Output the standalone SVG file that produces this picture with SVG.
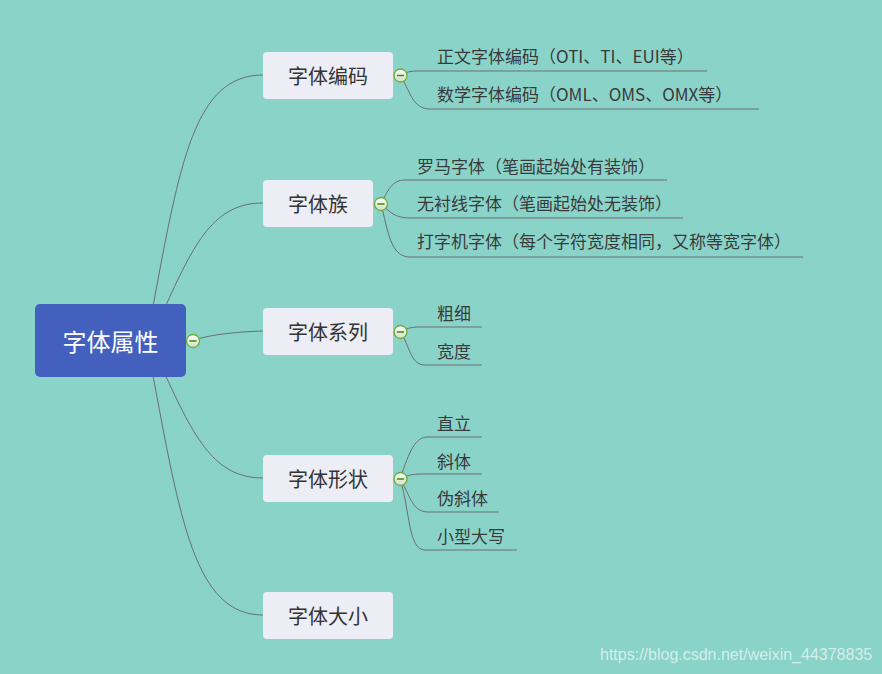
<svg xmlns="http://www.w3.org/2000/svg" width="882" height="674" viewBox="0 0 882 674">
<defs>
<linearGradient id="cg" x1="0" y1="0" x2="0" y2="1">
<stop offset="0" stop-color="#ffffff"/>
<stop offset="1" stop-color="#d3dfc2"/>
</linearGradient>
<g id="col">
<circle r="6.5" fill="url(#cg)" stroke="#6aae36" stroke-width="1.3"/>
<line x1="-3.6" y1="0" x2="3.6" y2="0" stroke="#3a8a18" stroke-width="1.5"/>
</g>
</defs>
<style>
.f{font-family:"Noto Sans CJK SC","Liberation Sans",sans-serif}
.root{fill:#4360bf}
.node{fill:#ededf5}
.nt{font-size:20px;fill:#333;text-anchor:middle;dominant-baseline:central}
.ct{font-size:17px;fill:#3a3a3a;dominant-baseline:central}
.ln{fill:none;stroke:#6e6e6e;stroke-width:1}
</style>
<rect width="882" height="674" fill="#8ad3c9"/>
<g id="connectors">
<path class="ln" d="M152 312 C180 160 195 75 263 75"/>
<path class="ln" d="M163 312 C195 240 215 203 263 203"/>
<path class="ln" d="M193 340 C215 334 235 332 263 331"/>
<path class="ln" d="M163 370 C195 440 215 478 263 478"/>
<path class="ln" d="M152 370 C180 520 195 615 263 615"/>
<path class="ln" d="M400 75 C406 72 410 71 420 71 L707 71"/>
<path class="ln" d="M400 75 C410 90 412 109 430 109 L759 109"/>
<path class="ln" d="M381 204 C388 190 392 180 405 180 L667 180"/>
<path class="ln" d="M381 204 C390 212 395 218 410 218 L683 218"/>
<path class="ln" d="M381 204 C388 230 390 257 410 257 L803 257"/>
<path class="ln" d="M400 332 C406 329 410 327 420 327 L482 327"/>
<path class="ln" d="M400 332 C410 345 410 365 425 365 L482 365"/>
<path class="ln" d="M400 479 C410 450 415 437 428 437 L482 437"/>
<path class="ln" d="M400 479 C406 476 410 474 422 474 L482 474"/>
<path class="ln" d="M400 479 C410 495 412 512 428 512 L499 512"/>
<path class="ln" d="M400 479 C410 510 408 550 425 550 L517 550"/>
</g>
<g id="root">
<rect class="root" x="35" y="304" width="151" height="73" rx="5"/>
<text class="f" x="110.5" y="340.5" font-size="24" fill="#fff" text-anchor="middle" dominant-baseline="central">字体属性</text>
<use href="#col" x="193" y="341"/>
</g>
<g id="n1">
<rect class="node" x="263" y="52" width="130" height="47" rx="4"/>
<text class="f nt" x="328" y="75">字体编码</text>
<use href="#col" x="400.5" y="75.5"/>
</g>
<g id="n2">
<rect class="node" x="263" y="180" width="110" height="47" rx="4"/>
<text class="f nt" x="318" y="203">字体族</text>
<use href="#col" x="381" y="204"/>
</g>
<g id="n3">
<rect class="node" x="263" y="308" width="130" height="47" rx="4"/>
<text class="f nt" x="328" y="331">字体系列</text>
<use href="#col" x="400.5" y="332"/>
</g>
<g id="n4">
<rect class="node" x="263" y="455" width="130" height="47" rx="4"/>
<text class="f nt" x="328" y="478">字体形状</text>
<use href="#col" x="400.5" y="479"/>
</g>
<g id="n5">
<rect class="node" x="263" y="592" width="130" height="47" rx="4"/>
<text class="f nt" x="328" y="615">字体大小</text>
</g>
<g id="c11"><text class="f ct" x="437" y="55">正文字体编码（OTI、TI、EUI等）</text></g>
<g id="c12"><text class="f ct" x="437" y="93">数学字体编码（OML、OMS、OMX等）</text></g>
<g id="c21"><text class="f ct" x="417" y="165">罗马字体（笔画起始处有装饰）</text></g>
<g id="c22"><text class="f ct" x="417" y="202">无衬线字体（笔画起始处无装饰）</text></g>
<g id="c23"><text class="f ct" x="417" y="240">打字机字体（每个字符宽度相同，又称等宽字体）</text></g>
<g id="c31"><text class="f ct" x="437" y="312">粗细</text></g>
<g id="c32"><text class="f ct" x="437" y="350">宽度</text></g>
<g id="c41"><text class="f ct" x="437" y="422">直立</text></g>
<g id="c42"><text class="f ct" x="437" y="460">斜体</text></g>
<g id="c43"><text class="f ct" x="437" y="497">伪斜体</text></g>
<g id="c44"><text class="f ct" x="437" y="535">小型大写</text></g>
<text x="600" y="660" font-family="Liberation Sans, Arial, sans-serif" font-size="16" fill="#ffffff" fill-opacity="0.65">https://blog.csdn.net/weixin_44378835</text>
</svg>
